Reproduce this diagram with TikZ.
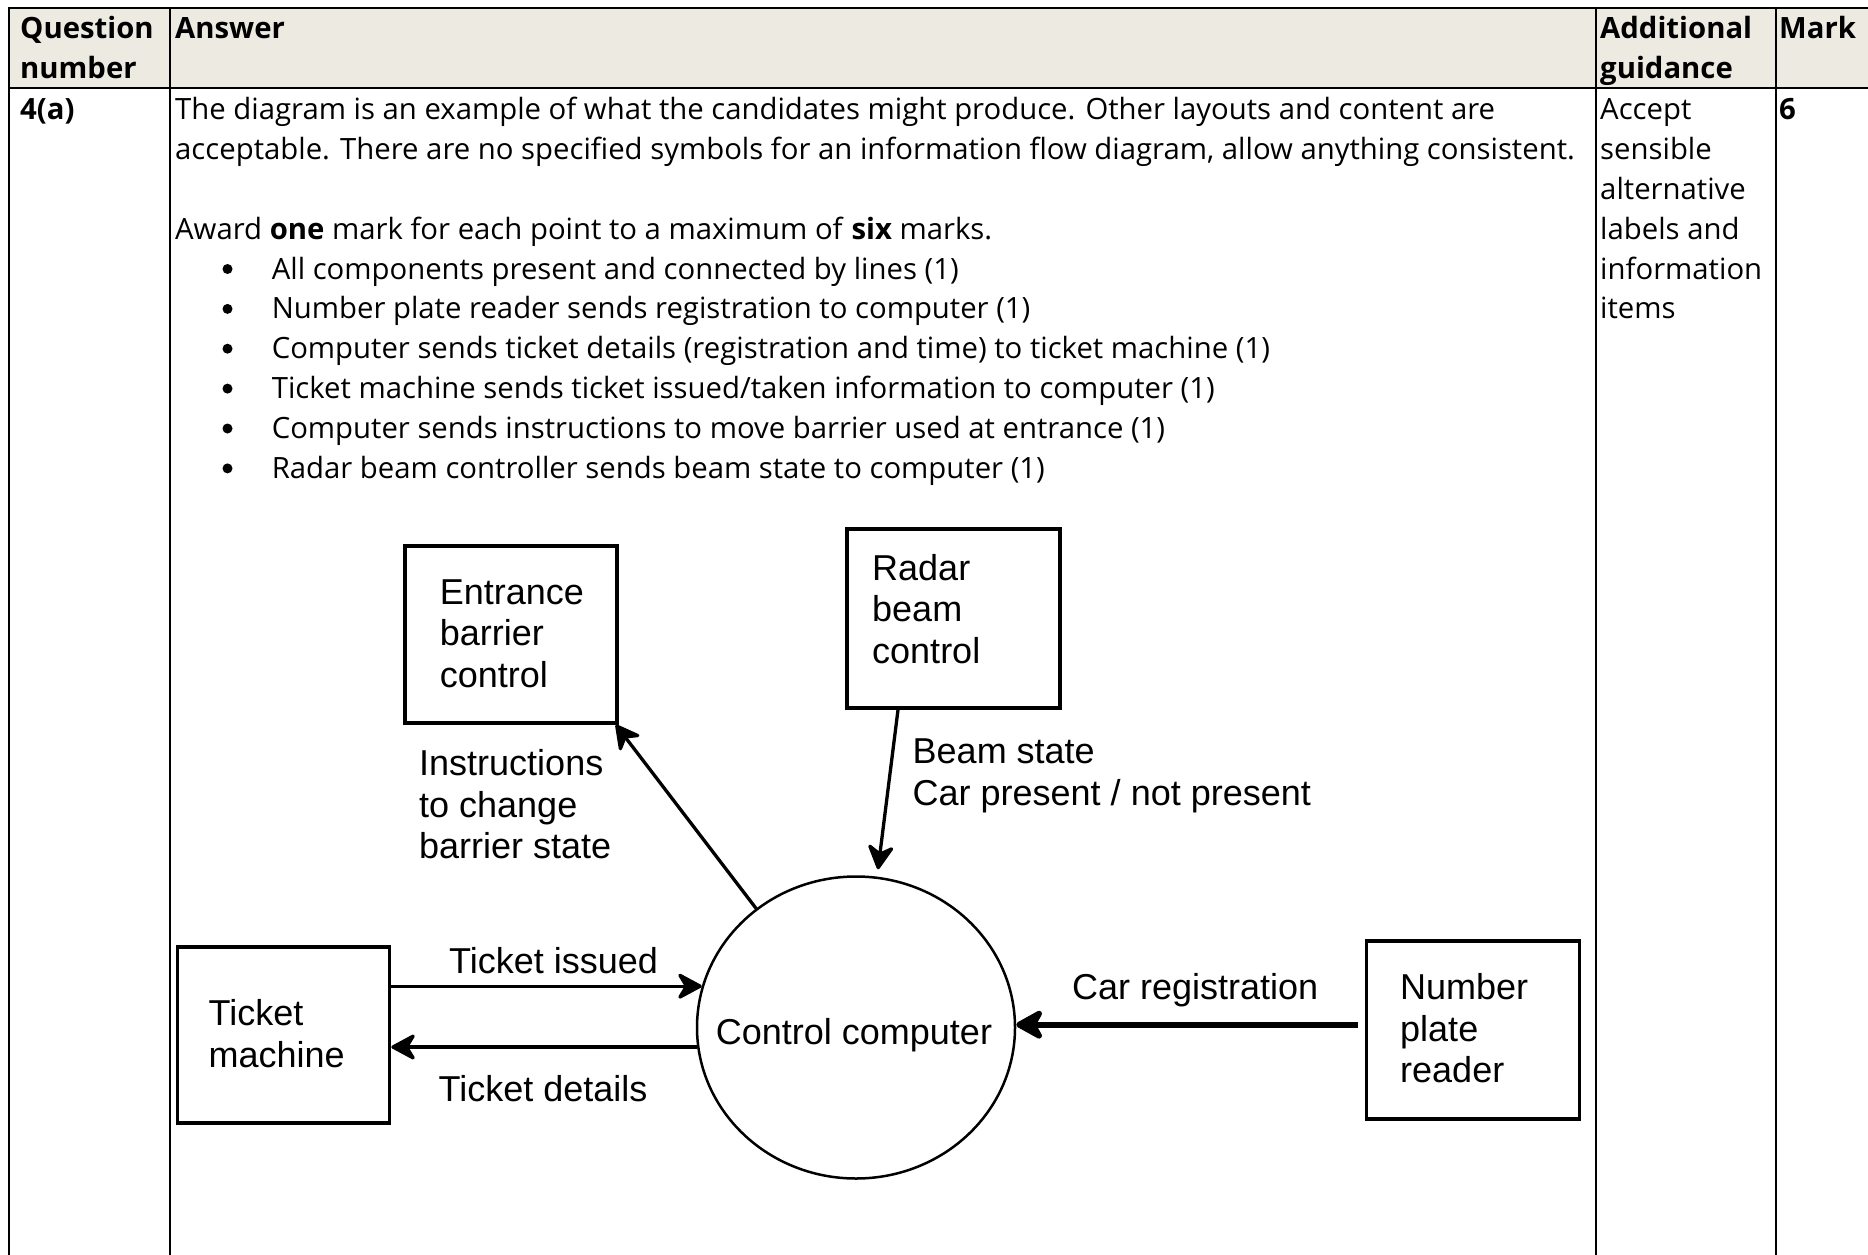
\documentclass[tikz,border=0pt]{standalone}
\usepackage{fontspec}
\setmainfont{Open Sans}
\newfontfamily\diafont{Liberation Sans}
\usetikzlibrary{arrows.meta,shapes.geometric}
\definecolor{hdr}{HTML}{EDEAE1}
\begin{document}
\begin{tikzpicture}[x=1pt,y=-1pt,
  tx/.style={anchor=base west, inner sep=0pt, font=\fontsize{29.3}{40}\selectfont},
  txb/.style={anchor=base west, inner sep=0pt, font=\fontsize{29.3}{40}\selectfont\bfseries},
  dt/.style={anchor=base west, inner sep=0pt, font=\diafont\fontsize{36}{42}\selectfont},
  boxn/.style={draw, line width=3.6pt, inner sep=0pt},
  tline/.style={line width=2pt},
  arr/.style={line width=3.3pt, -{Stealth[length=28pt,width=30pt,inset=9pt,round]}},
  bul/.style={circle, fill, inner sep=0pt, minimum size=10pt}]
\useasboundingbox (0,0) rectangle (1868,1255);
% table
\fill[hdr] (9,8) rectangle (1868,88);
\draw[tline] (1868,8) -- (9,8) -- (9,1255);
\draw[tline] (9,88) -- (1868,88);
\draw[tline] (170,8) -- (170,1255);
\draw[tline] (1596,8) -- (1596,1255);
\draw[tline] (1776,8) -- (1776,1255);
% header
\node[txb] (hq1) at (20,38.5) {Question};
\node[txb] (hq2) at (20,78.5) {number};
\node[txb] (ha) at (175,38.5) {Answer};
\node[txb] (hg1) at (1600,38.5) {Additional};
\node[txb] (hg2) at (1600,78.5) {guidance};
\node[txb] (hm) at (1779,38.5) {Mark};
% row
\node[txb] (qn) at (20,119.5) {4(a)};
\node[txb] (mk) at (1779,119.5) {6};
\node[tx] (a1) at (175,119.5) {The diagram is an example of what the candidates might produce. Other layouts and content are};
\node[tx] (a2) at (175,159.4) {acceptable. There are no specified symbols for an information flow diagram, allow anything consistent.};
\node[tx] (a3) at (175,239.1) {Award \textbf{one} mark for each point to a maximum of \textbf{six} marks.};
\node[bul] (b1) at (227.5,269) {};
\node[bul] (b2) at (227.5,308.9) {};
\node[bul] (b3) at (227.5,348.7) {};
\node[bul] (b4) at (227.5,388.6) {};
\node[bul] (b5) at (227.5,428.5) {};
\node[bul] (b6) at (227.5,468.4) {};
\node[tx] (l1) at (271.6,279) {All components present and connected by lines (1)};
\node[tx] (l2) at (271.6,318.9) {Number plate reader sends registration to computer (1)};
\node[tx] (l3) at (271.6,358.7) {Computer sends ticket details (registration and time) to ticket machine (1)};
\node[tx] (l4) at (271.6,398.6) {Ticket machine sends ticket issued/taken information to computer (1)};
\node[tx] (l5) at (271.6,438.5) {Computer sends instructions to move barrier used at entrance (1)};
\node[tx] (l6) at (271.6,478.4) {Radar beam controller sends beam state to computer (1)};
\node[tx] (g1) at (1600,119.5) {Accept};
\node[tx] (g2) at (1600,159.4) {sensible};
\node[tx] (g3) at (1600,199.2) {alternative};
\node[tx] (g4) at (1600,239.1) {labels and};
\node[tx] (g5) at (1600,279) {information};
\node[tx] (g6) at (1600,318.9) {items};
% diagram boxes
\node[boxn, minimum width=212pt, minimum height=177pt] (ebc) at (511,634.5) {};
\node[dt] (ebc1) at (439.6,604) {Entrance};
\node[dt] (ebc2) at (439.6,645.7) {barrier};
\node[dt] (ebc3) at (439.6,687.4) {control};
\node[boxn, minimum width=213pt, minimum height=179pt] (rbc) at (953.5,618.5) {};
\node[dt] (rbc1) at (872,580) {Radar};
\node[dt] (rbc2) at (872,621.7) {beam};
\node[dt] (rbc3) at (872,663.4) {control};
\node[boxn, minimum width=212pt, minimum height=176pt] (tm) at (283.5,1035) {};
\node[dt] (tm1) at (208.5,1025.5) {Ticket};
\node[dt] (tm2) at (208.5,1067) {machine};
\node[boxn, minimum width=213pt, minimum height=178pt] (npr) at (1473,1030) {};
\node[dt] (npr1) at (1400,999) {Number};
\node[dt] (npr2) at (1400,1041) {plate};
\node[dt] (npr3) at (1400,1082.6) {reader};
\node[draw, ellipse, line width=2.5pt, minimum width=318pt, minimum height=302pt, inner sep=0pt] (cc) at (856,1027.5) {};
\node[anchor=base, inner sep=0pt, font=\diafont\fontsize{36}{42}\selectfont] (cct) at (854,1044) {Control computer};
% connectors
\draw[arr] (tm.east |- cc.165.8) -- (cc.165.8);
\draw[arr] (cc.187.5) -- (tm.east |- cc.187.5);
\draw[line width=6pt, -{Stealth[length=33pt,width=36pt,inset=10pt,round]}] ([xshift=-7pt]npr.west |- cc.1.5) -- (cc.1.5);
\draw[arr] (cc.130) -- ([xshift=-3pt]ebc.south east);
\draw[arr] ([xshift=-55.5pt]rbc.south) -- ([xshift=22pt,yshift=6pt]cc.north);
% labels
\node[dt] (lti) at (449,973) {Ticket issued};
\node[dt] (ltd) at (438.4,1101.6) {Ticket details};
\node[dt] (lcr) at (1072,999) {Car registration};
\node[dt] (li1) at (419,775.4) {Instructions};
\node[dt] (li2) at (419,817) {to change};
\node[dt] (li3) at (419,858.7) {barrier state};
\node[dt] (lb1) at (912.5,763.4) {Beam state};
\node[dt] (lb2) at (912.5,805) {Car present / not present};
\end{tikzpicture}
\end{document}
